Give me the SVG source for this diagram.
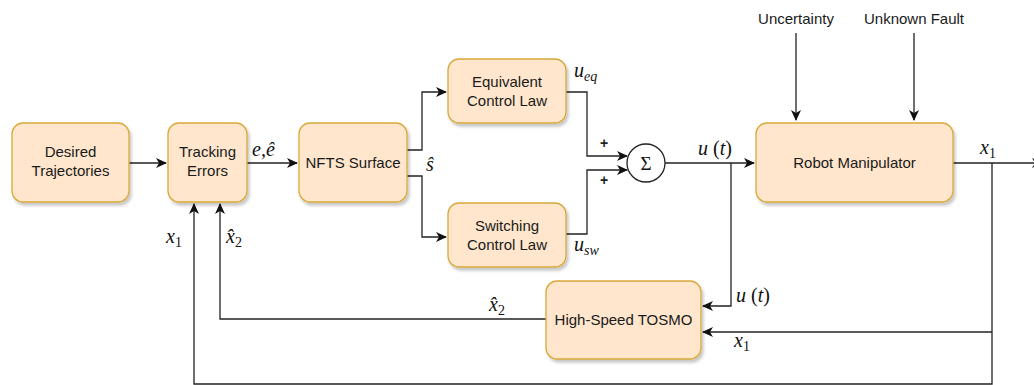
<svg xmlns="http://www.w3.org/2000/svg" width="1034" height="385" viewBox="0 0 1034 385">
<style>
.box{fill:#ffe6cc;stroke:#d9a93a;stroke-width:1.3}
.lbl{font-family:"Liberation Sans",Arial,sans-serif;font-size:15px;fill:#1a1a1a;text-anchor:middle}
.m{font-family:"Liberation Serif","Times New Roman",serif;font-style:italic;font-size:20px;fill:#111}
.sub{font-size:14px}
.up{font-style:normal}
.c{fill:none;stroke:#222;stroke-width:1.3}
.plus{font-family:"Liberation Sans",Arial,sans-serif;font-size:14px;font-weight:bold;fill:#222;text-anchor:middle}
</style>
<defs>
<marker id="ah" markerWidth="12" markerHeight="10" refX="10" refY="5" orient="auto" markerUnits="userSpaceOnUse">
<path d="M0,0 L11,5 L0,10 L3,5 Z" fill="#111"/>
</marker>
<filter id="sh" x="-10%" y="-10%" width="130%" height="130%">
<feDropShadow dx="2" dy="3" stdDeviation="1.5" flood-color="#000" flood-opacity="0.22"/>
</filter>
</defs>

<g id="connectors">
<path class="c" d="M129,163 H166" marker-end="url(#ah)"/>
<path class="c" d="M247,163 H297" marker-end="url(#ah)"/>
<path class="c" d="M407,150 H422 V92 H446" marker-end="url(#ah)"/>
<path class="c" d="M407,176 H422 V237 H446" marker-end="url(#ah)"/>
<path class="c" d="M566,92 H587 V156 H627" marker-end="url(#ah)"/>
<path class="c" d="M566,234 H587 V170 H627" marker-end="url(#ah)"/>
<path class="c" d="M665,163 H754" marker-end="url(#ah)"/>
<path class="c" d="M796,33 V120" marker-end="url(#ah)"/>
<path class="c" d="M914,33 V120" marker-end="url(#ah)"/>
<path class="c" d="M953,163 H1042" marker-end="url(#ah)"/>
<path class="c" d="M731,163 V306 H703" marker-end="url(#ah)"/>
<path class="c" d="M992,163 V384 H194 V204" marker-end="url(#ah)"/>
<path class="c" d="M992,332 H703" marker-end="url(#ah)"/>
<path class="c" d="M546,319 H220 V204" marker-end="url(#ah)"/>
</g>

<g id="desired">
<rect class="box" x="12" y="123" width="117" height="79" rx="11" filter="url(#sh)"/>
<text class="lbl" x="70.5" y="157">Desired</text>
<text class="lbl" x="70.5" y="176">Trajectories</text>
</g>
<g id="tracking">
<rect class="box" x="168" y="123" width="79" height="79" rx="11" filter="url(#sh)"/>
<text class="lbl" x="207.5" y="157">Tracking</text>
<text class="lbl" x="207.5" y="176">Errors</text>
</g>
<g id="nfts">
<rect class="box" x="299" y="123" width="108" height="79" rx="11" filter="url(#sh)"/>
<text class="lbl" x="353" y="168">NFTS Surface</text>
</g>
<g id="equivalent">
<rect class="box" x="448" y="59" width="118" height="64" rx="11" filter="url(#sh)"/>
<text class="lbl" x="507" y="87">Equivalent</text>
<text class="lbl" x="507" y="106">Control Law</text>
</g>
<g id="switching">
<rect class="box" x="448" y="203" width="118" height="64" rx="11" filter="url(#sh)"/>
<text class="lbl" x="507" y="231">Switching</text>
<text class="lbl" x="507" y="250">Control Law</text>
</g>
<g id="sum">
<circle cx="646" cy="163" r="19" fill="#fff" stroke="#222" stroke-width="1.3"/>
<text x="646" y="169.5" font-family="Liberation Serif,serif" font-size="19" text-anchor="middle" fill="#111">Σ</text>
<text class="plus" x="604" y="148">+</text>
<text class="plus" x="604" y="185">+</text>
</g>
<g id="robot">
<rect class="box" x="756" y="123" width="197" height="79" rx="11" filter="url(#sh)"/>
<text class="lbl" x="854.5" y="168">Robot Manipulator</text>
</g>
<g id="tosmo">
<rect class="box" x="546" y="281" width="155" height="78" rx="11" filter="url(#sh)"/>
<text class="lbl" x="623.5" y="325">High-Speed TOSMO</text>
</g>
<g id="disturbances">
<text class="lbl" x="796" y="24" font-size="14">Uncertainty</text>
<text class="lbl" x="914" y="24" font-size="14">Unknown Fault</text>
</g>

<g id="math-labels">
<text class="m" x="252" y="156">e,ê</text>
<text class="m" x="426" y="171">ŝ</text>
<text class="m" x="574" y="77">u<tspan class="sub" dy="4">eq</tspan></text>
<text class="m" x="574" y="251">u<tspan class="sub" dy="4">sw</tspan></text>
<text class="m" x="698" y="155">u<tspan class="up"> (</tspan>t<tspan class="up">)</tspan></text>
<text class="m" x="980" y="154">x<tspan class="sub up" dy="4">1</tspan></text>
<text class="m" x="166" y="243">x<tspan class="sub up" dy="4">1</tspan></text>
<text class="m" x="226" y="243">x̂<tspan class="sub up" dy="4">2</tspan></text>
<text class="m" x="489" y="311">x̂<tspan class="sub up" dy="4">2</tspan></text>
<text class="m" x="736" y="302">u<tspan class="up"> (</tspan>t<tspan class="up">)</tspan></text>
<text class="m" x="734" y="347">x<tspan class="sub up" dy="4">1</tspan></text>
</g>
</svg>
